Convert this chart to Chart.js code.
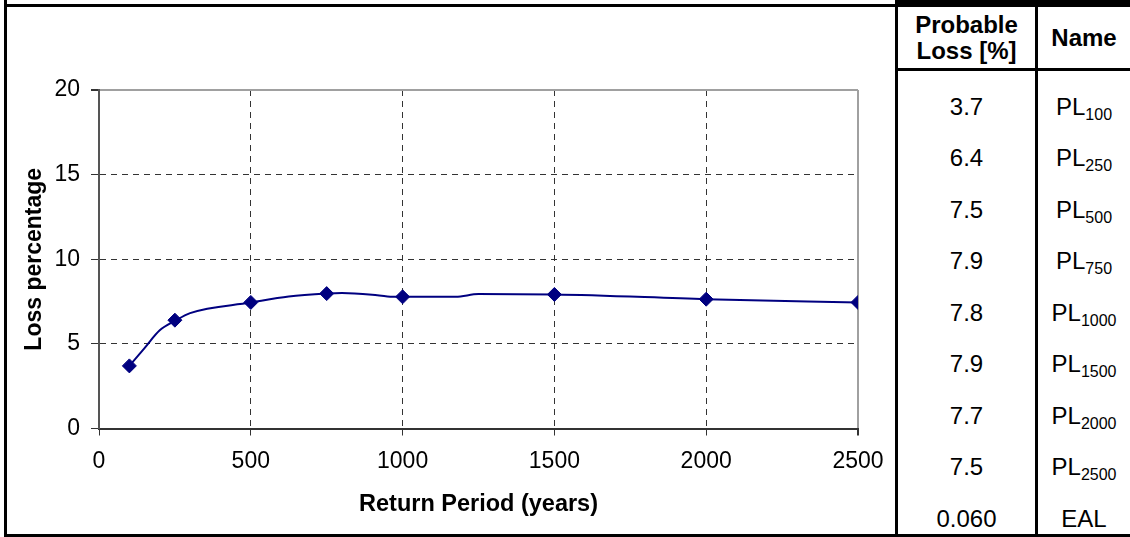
<!DOCTYPE html>
<html>
<head>
<meta charset="utf-8">
<script src="https://cdn.jsdelivr.net/npm/chart.js@4.4.1/dist/chart.umd.min.js"></script>
<style>
    html, body { margin: 0; padding: 0; background: #fff; }
    body { width: 1130px; height: 537px; position: relative; overflow: hidden; font-family: 'Liberation Sans', Arial, sans-serif; }
    .line { position: absolute; background: #000; }
    #chartBox { position: absolute; left: 7px; top: 7px; width: 888px; height: 527px; }
    .head { position: absolute; top: 7px; height: 61px; display: flex; align-items: center; justify-content: center; text-align: center; font-weight: bold; font-size: 24px; line-height: 26px; color: #000; }
    .cell { position: absolute; height: 51.5px; line-height: 51.5px; text-align: center; font-size: 24px; color: #000; }
    .cell sub { font-size: 16px; vertical-align: -5px; line-height: 0; }
</style>
</head>
<body>
<div class="line" style="left:4px; top:0; width:3px; height:537px;"></div>
<div class="line" style="left:4px; top:4px; width:891px; height:3px;"></div>
<div class="line" style="left:895px; top:0; width:235px; height:7px;"></div>
<div class="line" style="left:4px; top:534px; width:1126px; height:3px;"></div>
<div class="line" style="left:895px; top:0; width:3px; height:537px;"></div>
<div class="line" style="left:1035px; top:0; width:3px; height:537px;"></div>
<div class="line" style="left:895px; top:68px; width:235px; height:3px;"></div>

<div id="chartBox"><canvas id="lossChart"></canvas></div>
<div id="table"></div>

<script>
const returnPeriods = [100, 250, 500, 750, 1000, 1500, 2000, 2500];
const markerLoss = [3.7, 6.4, 7.45, 7.97, 7.78, 7.92, 7.64, 7.45];

// The curve itself has more points than the markers
const curveYears = [100, 150, 200, 250, 300, 500, 625, 750, 800, 900, 950, 1000, 1175, 1250, 1500, 2000, 2500];
const curveLoss = [3.7, 4.75, 5.8, 6.36, 6.82, 7.44, 7.8, 7.97, 8.0, 7.9, 7.8, 7.78, 7.78, 7.94, 7.92, 7.64, 7.45];

// Table on the right
const tableValues = ['3.7', '6.4', '7.5', '7.9', '7.8', '7.9', '7.7', '7.5', '0.060'];
const tableNames = ['100', '250', '500', '750', '1000', '1500', '2000', '2500', 'EAL'];

const yTicks = [0, 5, 10, 15, 20];
const xTicks = [0, 500, 1000, 1500, 2000, 2500];

document.addEventListener("DOMContentLoaded", function() {
    // build the table
    const table = document.getElementById('table');
    let html = '<div class="head" style="left:898px; width:137px;">Probable<br>Loss [%]</div>' +
               '<div class="head" style="left:1038px; width:92px;">Name</div>';
    tableValues.forEach((v, i) => {
        const top = 80.5 + i * 51.5;
        const name = tableNames[i] === 'EAL' ? 'EAL' : 'PL<sub>' + tableNames[i] + '</sub>';
        html += `<div class="cell" style="left:898px; width:137px; top:${top}px;">${v}</div>`;
        html += `<div class="cell" style="left:1038px; width:92px; top:${top}px;">${name}</div>`;
    });
    table.innerHTML = html;

    const font = "'Liberation Sans', Arial, sans-serif";
    const ctx = document.getElementById('lossChart').getContext('2d');

    new Chart(ctx, {
        type: 'line',
        data: {
            datasets: [{
                data: curveYears.map((x, i) => ({ x: x, y: curveLoss[i] })),
                borderColor: '#000080',
                borderWidth: 2,
                pointRadius: 0,
                cubicInterpolationMode: 'monotone',
                fill: false
            }, {
                data: returnPeriods.map((x, i) => ({ x: x, y: markerLoss[i] })),
                showLine: false,
                pointStyle: 'rectRot',
                pointRadius: 7,
                pointBackgroundColor: '#000080',
                pointBorderColor: '#000080',
                pointBorderWidth: 1
            }]
        },
        options: {
            responsive: true,
            maintainAspectRatio: false,
            animation: false,
            layout: { padding: { top: 83, right: 37, bottom: 0, left: 0 } },
            plugins: {
                legend: { display: false },
                tooltip: { enabled: false }
            },
            scales: {
                x: {
                    type: 'linear',
                    min: 0,
                    max: 2500,
                    afterBuildTicks: (scale) => { scale.ticks = xTicks.map(v => ({ value: v })); },
                    afterFit: (scale) => { scale.height = 105.5; scale.paddingLeft = 0; scale.paddingRight = 0; },
                    ticks: {
                        color: '#000', font: { family: font, size: 23 }, padding: 12, maxRotation: 0,
                        callback: (v) => String(v)
                    },
                    grid: {
                        color: (c) => c.tick && c.tick.value === 0 ? 'rgba(0,0,0,0)' : (c.tick && c.tick.value === 2500 ? '#a0a0a0' : '#333'),
                        lineWidth: (c) => c.tick && c.tick.value === 2500 ? 2 : 1,
                        tickColor: '#333',
                        tickLength: 7
                    },
                    border: {
                        display: true, color: '#333', width: 2,
                        dash: (c) => c.tick && c.tick.value === 2500 ? [] : [6, 5]
                    },
                    title: {
                        display: true,
                        text: 'Return Period (years)',
                        color: '#000',
                        font: { family: font, size: 23.5, weight: 'bold' },
                        padding: { top: 0, bottom: 15 }
                    }
                },
                y: {
                    min: 0,
                    max: 20,
                    afterBuildTicks: (scale) => { scale.ticks = yTicks.map(v => ({ value: v })); },
                    afterFit: (scale) => { scale.width = 92; scale.paddingTop = 0; scale.paddingBottom = 0; },
                    ticks: { color: '#000', font: { family: font, size: 23 }, padding: 11, callback: (v) => String(v) },
                    grid: {
                        color: (c) => c.tick && c.tick.value === 0 ? 'rgba(0,0,0,0)' : (c.tick && c.tick.value === 20 ? '#a0a0a0' : '#333'),
                        lineWidth: (c) => c.tick && c.tick.value === 20 ? 2 : 1,
                        tickColor: '#333',
                        tickLength: 8
                    },
                    border: {
                        display: true, color: '#555', width: 2,
                        dash: (c) => c.tick && c.tick.value === 20 ? [] : [6, 5]
                    },
                    title: {
                        display: true,
                        text: 'Loss percentage',
                        color: '#000',
                        font: { family: font, size: 23, weight: 'bold' },
                        padding: { top: 14, bottom: 0 }
                    }
                }
            }
        }
    });
});
</script>
</body>
</html>
